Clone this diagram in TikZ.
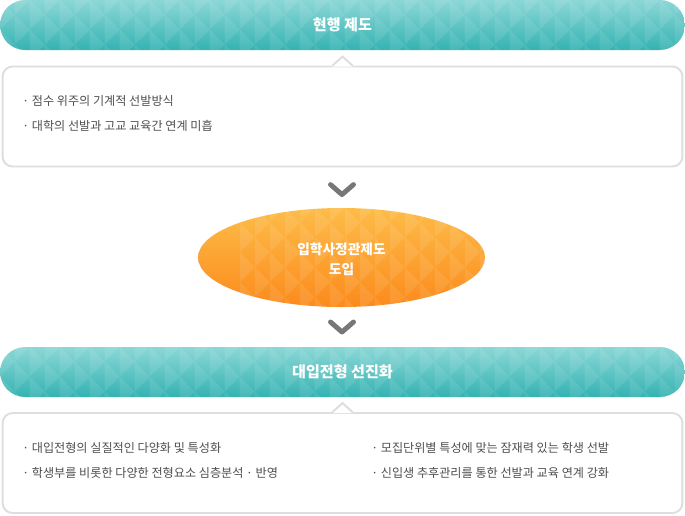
\documentclass[tikz,border=0pt]{standalone}
\usepackage{fontspec}
\setmainfont{Noto Sans CJK KR}
\usetikzlibrary{calc, positioning, shapes.geometric}

\definecolor{tealtop}{HTML}{8BD7D6}
\definecolor{tealbot}{HTML}{34B3B2}
\definecolor{orgtop}{HTML}{FDBC48}
\definecolor{orgbot}{HTML}{FB8B1C}
\definecolor{boxline}{HTML}{DEDEDE}
\definecolor{itemtxt}{HTML}{4E4E4E}
\definecolor{chevgray}{HTML}{777777}

% faint triangle pattern, drawn inside a clip
\newcommand{\trigrid}[1]{%
    \foreach \i in {0,...,46} \foreach \j in {-1,...,4} {
        \pgfmathsetmacro{\dy}{mod(\i,2)*15}
        \fill[white, opacity=0.09] ($(#1)+(\i*15, \j*30+\dy)$) -- ++(15,15) -- ++(-15,15) -- cycle;
    }}

\begin{document}
\begin{tikzpicture}[
    x=0.02cm, y=-0.02cm,
    font=\fontsize{6.9}{8}\selectfont,
    pill/.style={rectangle, rounded corners=0.5cm, minimum width=13.7cm, minimum height=1cm,
        top color=tealtop, bottom color=tealbot, inner sep=0pt},
    pilltext/.style={text=white, font=\fontsize{8.6}{10}\bfseries},
    panel/.style={draw=boxline, line width=1.1pt, rectangle, rounded corners=0.2cm,
        minimum width=13.6cm, minimum height=2cm, fill=white},
    oval/.style={ellipse, minimum width=5.74cm, minimum height=1.98cm, inner sep=0pt,
        top color=orgtop, bottom color=orgbot},
    ovaltext/.style={text=white, align=center, font=\fontsize{7.8}{11.3}\bfseries},
    item/.style={anchor=west, text=itemtxt, inner sep=0pt},
    chev/.style={draw=chevgray, line width=2.8pt, line cap=round, line join=round}
]
    \useasboundingbox (0,0) rectangle (685,515);

    % Current system
    \node[pill] (now) at (342.5,25) {};
    \begin{scope}
        \clip[rounded corners=0.5cm] (now.north west) rectangle (now.south east);
        \trigrid{now.north west}
    \end{scope}
    \node[pilltext] (nowtitle) at (now.center) {현행 제도};
    \node[panel] (nowbox) at (342.5,116.5) {};
    \fill[white] ($(nowbox.north)+(-10,1)$) -- ($(nowbox.north)+(0,-9)$) -- ($(nowbox.north)+(10,1)$) -- cycle;
    \draw[boxline, line width=1.1pt] ($(nowbox.north)+(-10,0)$) -- ($(nowbox.north)+(0,-9)$) -- ($(nowbox.north)+(10,0)$);
    \node[item] (now1) at (22,101) {· 점수 위주의 기계적 선발방식};
    \node[item] (now2) at (22,126) {· 대학의 선발과 고교 교육간 연계 미흡};

    % Admission officer system
    \node[oval] (officer) at (341.5,257.5) {};
    \begin{scope}
        \clip (officer.center) ellipse [x radius=143.5, y radius=49.5];
        \trigrid{officer.north west}
    \end{scope}
    \node[ovaltext] (officertext) at ($(officer.center)+(0,1.5)$) {입학사정관제도\\도입};

    % Advanced admission
    \node[pill] (adv) at (342.5,372) {};
    \begin{scope}
        \clip[rounded corners=0.5cm] (adv.north west) rectangle (adv.south east);
        \trigrid{adv.north west}
    \end{scope}
    \node[pilltext] (advtitle) at (adv.center) {대입전형 선진화};
    \node[panel] (advbox) at (342.5,463) {};
    \fill[white] ($(advbox.north)+(-10,1)$) -- ($(advbox.north)+(0,-9)$) -- ($(advbox.north)+(10,1)$) -- cycle;
    \draw[boxline, line width=1.1pt] ($(advbox.north)+(-10,0)$) -- ($(advbox.north)+(0,-9)$) -- ($(advbox.north)+(10,0)$);
    \node[item] (adv1) at (22,448) {· 대입전형의 실질적인 다양화 및 특성화};
    \node[item] (adv2) at (22,473) {· 학생부를 비롯한 다양한 전형요소 심층분석 · 반영};
    \node[item] (adv3) at (371,448) {· 모집단위별 특성에 맞는 잠재력 있는 학생 선발};
    \node[item] (adv4) at (371,473) {· 신입생 추후관리를 통한 선발과 교육 연계 강화};

    % Chevrons between the steps
    \coordinate (c1) at ($(nowbox.south)!0.5!(officer.north)+(0,2)$);
    \coordinate (c2) at ($(officer.south)!0.5!(adv.north)$);
    \foreach \c in {c1, c2}
        \draw[chev] ($(\c)+(-11.5,-5)$) -- ($(\c)+(0,5)$) -- ($(\c)+(11.5,-5)$);

\end{tikzpicture}
\end{document}
